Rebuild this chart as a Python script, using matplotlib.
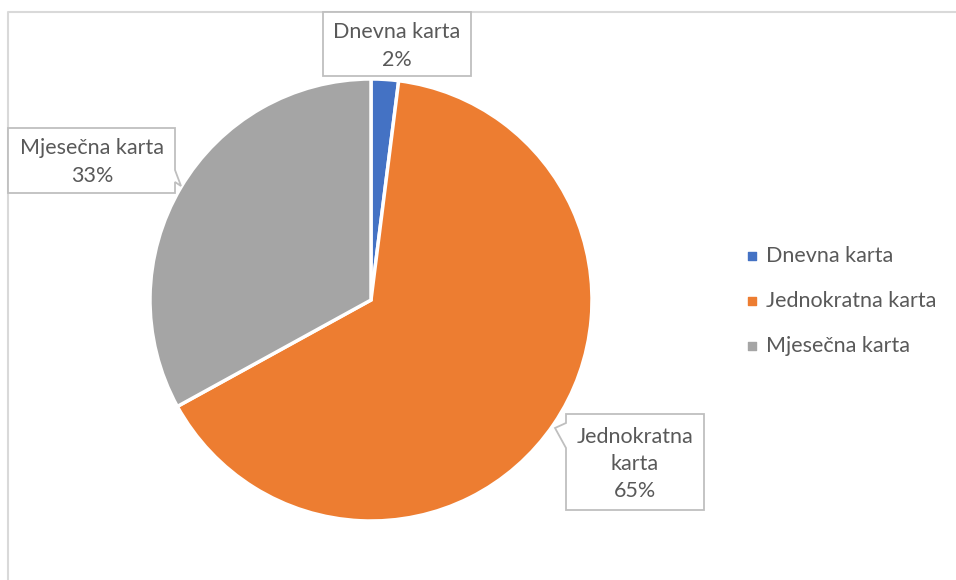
import matplotlib
matplotlib.use("Agg")
import matplotlib.pyplot as plt
from matplotlib.patches import Polygon

categories = ["Dnevna karta", "Jednokratna karta", "Mjesečna karta"]
values = [2, 65, 33]
colors = ["#4472C4", "#ED7D31", "#A5A5A5"]
box_labels = ["Dnevna karta", "Jednokratna\nkarta", "Mjesečna karta"]

plt.rcParams['font.family'] = ['Lato', 'DejaVu Sans']
txt = "#595959"
edge = "#BFBFBF"
H = 580

fig = plt.figure(figsize=(9.56, 5.8), dpi=100)
ax = fig.add_axes([0, 0, 1, 1])

# chart border (only left and top visible)
ax.plot([8, 8, 956], [0, H - 12, H - 12], color="#D9D9D9", lw=1.5)

ax.pie(values, colors=colors, startangle=90, counterclock=False,
       center=(371, H - 300), radius=221, frame=True,
       wedgeprops=dict(edgecolor="white", linewidth=2.5))
ax.set_xlim(0, 956)
ax.set_ylim(0, H)
ax.set_aspect("equal")
ax.axis("off")

def y(v):
    return H - v

# callout boxes (outline in pixel coords, y from top)
outlines = [
    [(323, 12), (471, 12), (471, 76), (323, 76)],
    [(566, 414), (704, 414), (704, 510), (566, 510), (566, 448), (555, 428), (566, 423)],
    [(8, 128), (175, 128), (175, 170), (181, 186), (175, 182), (175, 193), (8, 193)],
]
centers = [(397, 46), (635, 464), (92, 162)]
for i in range(3):
    pts = [(px, y(py)) for px, py in outlines[i]]
    ax.add_patch(Polygon(pts, closed=True, facecolor="white", edgecolor=edge, lw=1.3, zorder=5))
    ax.text(centers[i][0], y(centers[i][1]), box_labels[i] + "\n" + str(values[i]) + "%",
            ha="center", va="center", fontsize=15.5, color=txt, linespacing=1.45, zorder=6)

# legend
for i, cat in enumerate(categories):
    yy = y(256 + 45 * i)
    ax.scatter([752], [yy], marker="s", s=33, color=colors[i], zorder=6)
    ax.text(766, yy, cat, ha="left", va="center", fontsize=15.5, color=txt)

fig.savefig("out.png", dpi=100)
